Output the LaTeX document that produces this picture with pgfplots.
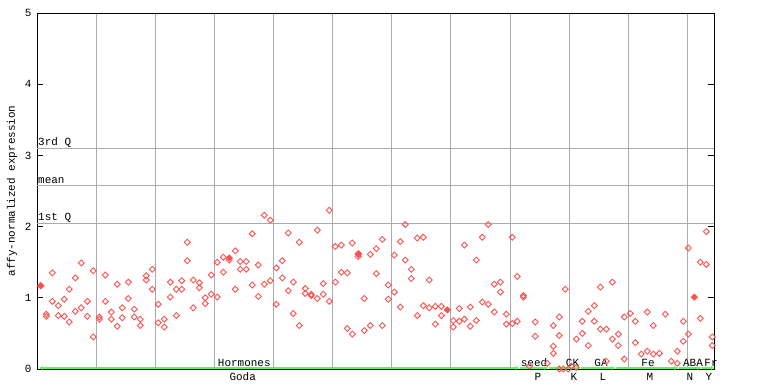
\documentclass[border=0pt]{standalone}
\usepackage{pgfplots}
\pgfplotsset{compat=1.18}
\usepackage{fontspec}
\setmainfont{Liberation Mono}
\usetikzlibrary{arrows.meta}
\definecolor{pt}{RGB}{255,80,80}
\definecolor{grn}{RGB}{80,255,80}
\definecolor{grd}{RGB}{170,170,170}
\begin{document}
\begin{tikzpicture}
\useasboundingbox (0,0) rectangle (768bp,384bp);
\begin{axis}[
  at={(37bp,15bp)}, anchor=south west,
  scale only axis, width=677bp, height=356bp,
  xmin=37, xmax=714, ymin=0, ymax=5,
  clip=false,
  axis line style={black, line width=1bp},
  xtick={96.3,155.4,214.5,273.6,332.7,391.8,450.9,510,569.1,628.2,687.3},
  xticklabels={}, major x tick style={draw=none},
  xmajorgrids, grid style={grd, line width=1bp},
  ytick={0,1,2,3,4,5},
  ytick pos=both, tick align=inside, major tick length=6bp,
  ytick style={black, line width=1bp},
  /pgf/number format/assume math mode=true,
  yticklabel style={font=\fontsize{11}{12}\selectfont, xshift=-2bp},
  ylabel={affy-normalized expression},
  ylabel style={font=\fontsize{11}{12}\selectfont, at={(axis description cs:-0.037,0.5)}, anchor=center},
  every axis plot/.append style={line width=0.9bp},
]
% quartile lines
\addplot[grd, line width=1bp, no marks] coordinates {(37,3.10) (714,3.10)};
\addplot[grd, line width=1bp, no marks] coordinates {(37,2.58) (714,2.58)};
\addplot[grd, line width=1bp, no marks] coordinates {(37,2.04) (714,2.04)};
\node[anchor=south west, inner sep=1bp, font=\fontsize{11}{12}\selectfont] at (axis cs:37,3.10) {3rd Q};
\node[anchor=south west, inner sep=1bp, font=\fontsize{11}{12}\selectfont] at (axis cs:37,2.58) {mean};
\node[anchor=south west, inner sep=1bp, font=\fontsize{11}{12}\selectfont] at (axis cs:37,2.04) {1st Q};
% points
\addplot[only marks, mark=square, mark size=2.1bp, mark options={rotate=45, draw=pt, fill=white, line width=0.9bp}] coordinates {
(40.7,1.17)
(46.3,0.77)(46.3,0.74)
(52.3,1.35)(52.3,0.95)
(58.3,0.89)(58.3,0.75)
(64.3,0.98)(64.3,0.74)
(69.3,1.12)(69.3,0.66)
(75.3,1.28)(75.3,0.81)
(81.3,1.49)(81.3,0.86)
(87.3,0.95)(87.3,0.74)
(93.3,1.38)(93.3,0.45)
(99.3,0.73)(99.3,0.70)
(105.3,1.32)(105.3,0.95)
(111.3,0.80)(111.3,0.70)
(117.3,1.19)(117.3,0.60)
(122.3,0.86)(122.3,0.72)
(128.3,1.22)(128.3,0.99)
(134.3,0.84)(134.3,0.73)
(140.3,0.70)(140.3,0.61)
(146.3,1.31)(146.3,1.25)
(152.3,1.40)(152.3,1.12)
(158.3,0.91)(158.3,0.65)
(164.3,0.70)(164.3,0.59)
(170.3,1.22)(170.3,1.01)
(176.3,1.12)(176.3,0.75)
(181.7,1.24)(181.7,1.12)
(187.3,1.78)(187.3,1.52)
(193.3,1.25)(193.3,0.86)
(199.3,1.21)(199.3,1.14)
(205.3,1.00)(205.3,0.92)
(211.3,1.32)(211.3,1.05)
(217.3,1.50)(217.3,1.01)
(223.3,1.57)(223.3,1.36)
(229.3,1.53)
(235.3,1.66)(235.3,1.12)
(240.3,1.51)(240.3,1.40)
(246.3,1.51)(246.3,1.40)
(252.3,1.90)(252.3,1.18)
(258.3,1.46)(258.3,1.02)
(264.3,2.16)(264.3,1.19)
(270.3,2.09)(270.3,1.24)
(276.3,1.42)(276.3,0.91)
(282.3,1.52)(282.3,1.28)
(288.3,1.91)(288.3,1.10)
(293.3,1.22)(293.3,0.78)
(299.3,1.78)(299.3,0.61)
(305.3,1.13)(305.3,1.06)
(311.3,1.05)(311.3,1.03)
(317.3,1.95)(317.3,0.99)
(323.3,1.20)(323.3,1.05)
(329.3,2.23)(329.3,0.95)
(335.3,1.72)(335.3,1.22)
(341.3,1.74)(341.3,1.36)
(347.3,1.35)(347.3,0.57)
(352.3,1.77)(352.3,0.49)
(358.3,1.62)(358.3,1.58)
(364.3,0.99)(364.3,0.54)
(370.3,1.61)(370.3,0.61)
(376.3,1.69)(376.3,1.34)
(382.3,1.82)(382.3,0.61)
(388.3,1.18)(388.3,0.98)
(394.3,1.60)(394.3,1.08)
(400.3,1.79)(400.3,0.87)
(405.3,2.03)(405.3,1.53)
(411.3,1.40)(411.3,1.27)
(417.3,1.84)(417.3,0.75)
(423.3,1.85)(423.3,0.89)
(429.3,1.25)(429.3,0.86)
(435.3,0.88)(435.3,0.63)
(441.3,0.88)(441.3,0.75)
(453.3,0.68)(453.3,0.59)
(459.3,0.85)(459.3,0.67)
(464.3,1.74)(464.3,0.70)
(470.3,0.87)(470.3,0.60)
(476.3,1.53)(476.3,0.68)
(482.3,1.85)(482.3,0.94)
(488.3,2.03)(488.3,0.91)
(494.3,1.19)(494.3,0.80)
(500.3,1.22)(500.3,1.08)
(506.3,0.77)(506.3,0.63)
(512.3,1.85)(512.3,0.64)
(517.3,1.30)(517.3,0.67)
(523.3,1.03)(523.3,1.01)
(529.3,0.04)
(535.3,0.66)(535.3,0.46)
(547.3,0.08)
(553.3,0.61)(553.3,0.32)(553.3,0.22)
(559.3,0.73)(559.3,0.47)(559.3,0.0)
(563.3,0.0)
(565.3,1.12)(568.3,0.0)
(571.3,0.04)
(576.3,0.42)(576.3,0.02)
(582.3,0.67)(582.3,0.50)
(588.3,0.81)(588.3,0.33)
(594.3,0.89)(594.3,0.67)
(600.3,1.15)(600.3,0.56)
(606.3,0.56)(606.3,0.11)
(612.3,1.22)(612.3,0.42)
(618.3,0.49)(618.3,0.33)
(624.3,0.73)(624.3,0.14)
(630.3,0.78)
(635.3,0.67)(635.3,0.37)
(641.3,0.21)
(647.3,0.80)(647.3,0.25)
(653.3,0.61)(653.3,0.21)
(659.3,0.22)
(665.3,0.77)
(671.3,0.11)
(677.3,0.25)(677.3,0.08)
(683.3,0.67)(683.3,0.39)
(688.3,1.70)(688.3,0.49)
(700.3,1.50)(700.3,0.71)
(706.3,1.93)(706.3,1.47)
(712.3,0.45)(712.3,0.33)
};
% filled points
\addplot[only marks, mark=square*, mark size=2.1bp, mark options={rotate=45, draw=pt, fill=pt, line width=0.9bp}] coordinates {
(40.7,1.17)(229.3,1.56)(358.3,1.61)(447.3,0.83)(694.3,1.01)
};
% group bar
\addplot[grn, line width=1.4bp, no marks, {Stealth[length=4bp,width=4bp]}-{Stealth[length=4bp,width=4bp]}] coordinates {(39,0.015) (519,0.015)};
\addplot[grn, line width=1.4bp, no marks, -{Stealth[length=4bp,width=4bp]}] coordinates {(520,0.015) (548,0.015)};
\addplot[grn, line width=1.4bp, no marks, -{Stealth[length=4bp,width=4bp]}] coordinates {(549,0.015) (580,0.015)};
\addplot[grn, line width=1.4bp, no marks, -{Stealth[length=4bp,width=4bp]}] coordinates {(581,0.015) (615,0.015)};
\addplot[grn, line width=1.4bp, no marks, -{Stealth[length=4bp,width=4bp]}] coordinates {(616,0.015) (678,0.015)};
\addplot[grn, line width=1.4bp, no marks, -{Stealth[length=4bp,width=4bp]}] coordinates {(679,0.015) (701,0.015)};
\addplot[grn, line width=1.4bp, no marks, -{Stealth[length=3bp,width=4bp]}] coordinates {(702,0.015) (714,0.015)};
% group labels
\tikzset{glab/.style={font=\fontsize{11}{12}\selectfont, inner sep=0pt, anchor=center}}
\node[glab] at (axis cs:244.3,0.09) {Hormones};
\node[glab] at (axis cs:242.7,-0.105) {Goda};
\node[glab] at (axis cs:534,0.09) {seed};
\node[glab] at (axis cs:538,-0.105) {P};
\node[glab] at (axis cs:572.5,0.09) {CK};
\node[glab] at (axis cs:574,-0.105) {K};
\node[glab] at (axis cs:601,0.09) {GA};
\node[glab] at (axis cs:603,-0.105) {L};
\node[glab] at (axis cs:648,0.09) {Fe};
\node[glab] at (axis cs:650,-0.105) {M};
\node[glab] at (axis cs:693,0.09) {ABA};
\node[glab] at (axis cs:690,-0.105) {N};
\node[glab] at (axis cs:711,0.09) {Fr};
\node[glab] at (axis cs:709,-0.105) {Y};
\end{axis}
\end{tikzpicture}
\end{document}
